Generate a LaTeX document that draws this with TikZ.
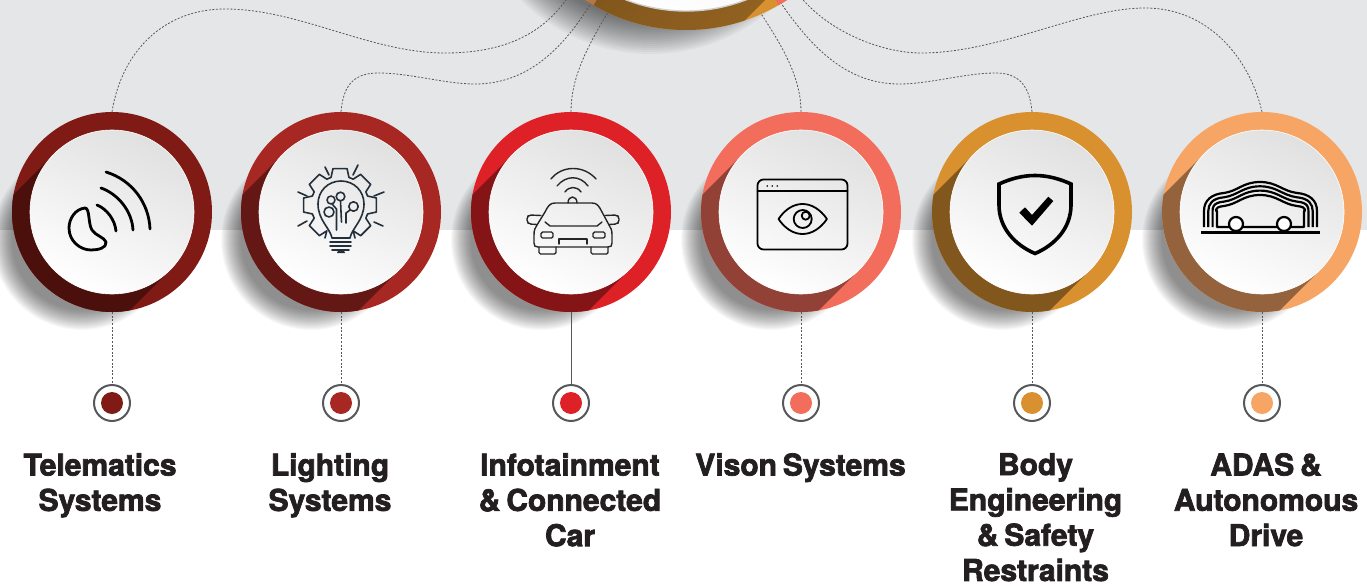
\documentclass[tikz,border=0pt]{standalone}
\usepackage{fontspec}
\setmainfont{TeX Gyre Heros}[BoldFeatures={FakeBold=2.4,WordSpace=.7}]
\usetikzlibrary{positioning}

\definecolor{bggrey}{HTML}{E5E6E8}
\definecolor{telecol}{HTML}{7F1A14}
\definecolor{lampcol}{HTML}{A72823}
\definecolor{infocol}{HTML}{DE2127}
\definecolor{visioncol}{HTML}{F36D5C}
\definecolor{bodycol}{HTML}{D99130}
\definecolor{adascol}{HTML}{F6A565}
\definecolor{wirecol}{HTML}{55595C}
\definecolor{navy}{HTML}{232F3A}
\definecolor{inkcol}{HTML}{231F20}

\tikzset{
	ringnode/.style={circle,inner sep=0pt,minimum size=200pt},
	discnode/.style={circle,inner sep=0pt,minimum size=164pt,draw=white,line width=.6pt,
		top color=black!12,bottom color=white,shading angle=-25},
	dotnode/.style={circle,inner sep=0pt,minimum size=36pt,draw=wirecol,line width=2pt,fill=white},
	pipnode/.style={circle,inner sep=0pt,minimum size=22pt},
	textnode/.style={align=center,anchor=north,inner sep=0pt,text=inkcol,
		font=\fontsize{30}{35.3}\selectfont\bfseries},
	wire/.style={draw=wirecol,line width=.8pt,dash pattern=on 2pt off 1.6pt},
	wiresolid/.style={draw=wirecol,line width=.8pt},
	icon/.style={line width=1.4pt,line cap=round,line join=round,draw=black}
}

\begin{document}
\begin{tikzpicture}[x=1pt,y=-1pt]

	\useasboundingbox (0,0) rectangle (1367,586);
	\clip (0,0) rectangle (1367,586);
	\fill[bggrey] (0,0) rectangle (1367,230);

	% hub at the top
	\foreach \r in {150,152,...,184}
		\fill[black,opacity=.035] (651,-130) circle (\r);
	\node[ringnode,minimum size=370pt,fill=bodycol] (hub) at (686,-155) {};
	\begin{scope}
		\clip (686,-155) circle (185);
		\fill[visioncol] (686,-155) -- +(60:260) -- +(0:260) -- cycle;
		\begin{scope}
			\clip (569,-272) -- (803,-38) -- (503,262) -- (269,-28) -- cycle;
			\shade[top color=bodycol!46!black,middle color=bodycol!46!black,bottom color=bodycol!68!black,shading angle=45]
				(686,-155) circle (185);
			\fill[adascol!72!black] (686,-155) -- +(120:260) -- +(180:260) -- cycle;
		\end{scope}
	\end{scope}
	\node[discnode,minimum size=332pt,draw=black!18,line width=1.4pt] (hubdisc) at (hub) {};

	% the six items
	\foreach \name/\x/\col/\lnk/\lx/\txt in {
		tele/112/telecol/wire/100/{Telematics\\Systems},
		lamp/341/lampcol/wire/330/{Lighting\\Systems},
		info/571/infocol/wiresolid/570/{Infotainment\\\& Connected\\Car},
		vision/801/visioncol/wire/800.5/{Vison Systems},
		body/1032/bodycol/wire/1035.5/{Body\\Engineering\\\& Safety\\Restraints},
		adas/1262/adascol/wire/1266/{ADAS \&\\Autonomous\\Drive}}
	{
		\foreach \r in {70,71,...,90}
			\fill[black,opacity=.028] (\x-30,240) circle (\r);
		\node[ringnode,fill=\col] (\name) at (\x,212) {};
		\begin{scope}
			\clip (\x-58,154) -- (\x+58,270) -- (\x-142,470) -- (\x-258,354) -- cycle;
			\shade[top color=\col!60!black,middle color=\col!42!black,bottom color=\col!60!black,shading angle=45]
				(\x,212) circle (100);
		\end{scope}
		\node[discnode] (disc\name) at (\name) {};
		\node[dotnode] (dot\name) at (\x,403) {};
		\node[pipnode,fill=\col] (pip\name) at (dot\name) {};
		\draw[\lnk] (\name.south) -- (dot\name.north);
		\node[textnode] (text\name) at (\lx,453) {\txt};
	}

	% connectors from the hub
	\draw[wire] (tele.north) .. controls (122,50) and (165,9) .. (225,9)
		.. controls (300,9) and (370,53) .. (445,53) .. controls (510,53) and (548,30) .. (hub.-128);
	\draw[wire] (lamp.north) .. controls (343,90) and (350,73) .. (378,73)
		.. controls (410,73) and (445,84) .. (475,84) .. controls (530,84) and (565,45) .. (hub.-121);
	\draw[wire] (info.north) .. controls (571,80) and (585,50) .. (hub.-115);
	\draw[wire] (vision.north) .. controls (801,80) and (785,50) .. (hub.-66);
	\draw[wire] (body.north) .. controls (1030,90) and (1022,73) .. (996,73)
		.. controls (965,73) and (930,84) .. (899,84) .. controls (845,84) and (810,45) .. (hub.-59);
	\draw[wire] (adas.north) .. controls (1250,60) and (1210,8) .. (1145,8)
		.. controls (1080,8) and (1000,53) .. (921,53) .. controls (880,53) and (825,30) .. (hub.-53);

	% telematics icon
	\begin{scope}[icon,line width=2.8pt]
		\draw (85,208) .. controls (75,209) and (69,219) .. (69,228)
			.. controls (69,241) and (80,250) .. (91,250) .. controls (98,250) and (107,248) .. (106,242)
			.. controls (104,237) and (96,236) .. (92,230) .. controls (88,224) and (90,208) .. (85,208) -- cycle;
		\draw (106,172) .. controls (132,180) and (149,203) .. (150,229);
		\draw (101,188) .. controls (118,194) and (132,211) .. (133,230);
		\draw (97,205) .. controls (107,209) and (115,220) .. (116,231);
	\end{scope}

	% lamp icon
	\begin{scope}[icon,draw=navy,line width=1.6pt,shift={(340,205)}]
		\draw (-15,33)
			\foreach \a in {135,180,225,270,315,360,405} { -- (\a-18:29) -- (\a-11:37) -- (\a+11:37) -- (\a+18:29) }
			-- (15,33);
	\end{scope}
	\begin{scope}[icon,draw=navy,line width=1.6pt]
		\draw (332,238) .. controls (330,228) and (318,220) .. (318,204) .. controls (318,191) and (328,181) .. (341,181)
			.. controls (354,181) and (364,191) .. (364,204) .. controls (364,220) and (352,228) .. (350,238) -- cycle;
		\draw (330,242) -- (351,242);
		\draw (330,246) -- (351,246);
		\draw (332,250) -- (349,250);
		\fill[navy] (337,253) -- (345,253) arc (0:180:4 and -4) -- cycle;
		\draw (325,167) -- (329,175);
		\draw (358,165) -- (353,175);
		\draw (298,192) -- (307,196);
		\draw (384,192) -- (374,196);
		\draw (298,226) -- (307,221);
		\draw (383,226) -- (374,222);
		\draw (331,200) circle (4);
		\draw (340.5,196.5) circle (4.3);
		\draw (329,212) circle (5);
		\draw (353.5,206.5) circle (4.7);
		\draw (340.5,201) -- (341.5,222);
		\draw (332,204) -- (336.5,209) -- (336.5,230);
		\draw (346,223) -- (346,213) -- (350,210);
	\end{scope}

	% car icon
	\begin{scope}[icon,line width=1.4pt,draw=black!85]
		\draw (551,179) .. controls (562,165) and (584,165) .. (596,179);
		\draw (557,186) .. controls (566,175) and (580,175) .. (588,186);
		\draw (565,192) .. controls (569,186) and (577,186) .. (581,192);
		\draw (568,203) .. controls (568,195) and (577,195) .. (577,203);
		\draw (555,203) -- (592,203) .. controls (597,203) and (599,206) .. (602,212) -- (609,225)
			.. controls (611,228) and (612,230) .. (612,235) -- (612,243) .. controls (612,246) and (611,247) .. (608,247)
			-- (538,247) .. controls (535,247) and (534,246) .. (534,243) -- (534,235) .. controls (534,230) and (535,228) .. (537,225)
			-- (545,212) .. controls (548,206) and (550,203) .. (555,203) -- cycle;
		\draw (545,222) -- (550,226) -- (597,226) -- (602,222);
		\draw[rounded corners=2pt] (541,215.5) -- (529,215) -- (527,217) -- (527,222) -- (529,224) -- (537,224.5);
		\draw[rounded corners=2pt] (605,215.5) -- (617,215) -- (619,217) -- (619,222) -- (617,224) -- (609,224.5);
		\draw[rounded corners=1.5pt] (541,232) rectangle (553,238);
		\draw[rounded corners=1.5pt] (593,232) rectangle (605,238);
		\draw (559,244) -- (559,239) -- (587,239) -- (587,244);
		\draw[rounded corners=1.5pt] (539,247) -- (539,254) -- (556,254) -- (556,247);
		\draw[rounded corners=1.5pt] (591,247) -- (591,254) -- (608,254) -- (608,247);
	\end{scope}

	% eye icon
	\begin{scope}[icon,line width=1.8pt]
		\draw[rounded corners=6pt] (757.5,179.5) rectangle (847.5,249.5);
		\draw (757.5,191) -- (847.5,191);
		\foreach \a in {767.3,772.3,777.3}
			\fill (\a,186) circle (.9);
		\draw (778.5,219) .. controls (792,199) and (813,199) .. (827,219) .. controls (813,239) and (792,239) .. (778.5,219) -- cycle;
		\draw (802.7,219) circle (9);
		\draw (805.7,215.7) circle (4);
	\end{scope}

	% shield icon
	\draw[icon,line width=3.6pt,line join=miter] (1035,175.5) .. controls (1048,175.5) and (1060,179) .. (1071,184) -- (1071,205)
		.. controls (1071,228) and (1055,245) .. (1035,253.5) .. controls (1015,245) and (999,228) .. (999,205)
		-- (999,184) .. controls (1010,179) and (1022,175.5) .. (1035,175.5) -- cycle;
	\fill (1019.3,212.7) -- (1025,207.3) -- (1032,215) -- (1048.3,196.7) -- (1053.3,201) -- (1032,225.7) -- cycle;

	% adas icon
	\begin{scope}[icon,line width=2.2pt,line cap=butt]
		\foreach \d in {0,4.3,8.6}
			\draw (1204+\d,227) -- (1204+\d,211) .. controls (1204+\d,200+\d) and (1212,194+\d) .. (1224,193+\d)
				.. controls (1238,191+\d) and (1243,182+\d) .. (1260,182+\d)
				.. controls (1277,182+\d) and (1282,191+\d) .. (1297,193+\d)
				.. controls (1309,194+\d) and (1317-\d,200+\d) .. (1317-\d,211) -- (1317-\d,227);
		\def\d{13}
		\draw (1204+\d,211) .. controls (1204+\d,200+\d) and (1212,194+\d) .. (1224,193+\d)
			.. controls (1238,191+\d) and (1243,182+\d) .. (1260,182+\d)
			.. controls (1277,182+\d) and (1282,191+\d) .. (1297,193+\d)
			.. controls (1309,194+\d) and (1317-\d,200+\d) .. (1317-\d,211)
			-- (1317-\d,223) -- (1304,227) -- (1217,227) -- cycle;
		\draw[fill=white] (1236,224) circle (7);
		\draw[fill=white] (1284,224) circle (7);
		\draw[line width=2.6pt] (1201,232.7) -- (1320,232.7);
	\end{scope}

\end{tikzpicture}
\end{document}
